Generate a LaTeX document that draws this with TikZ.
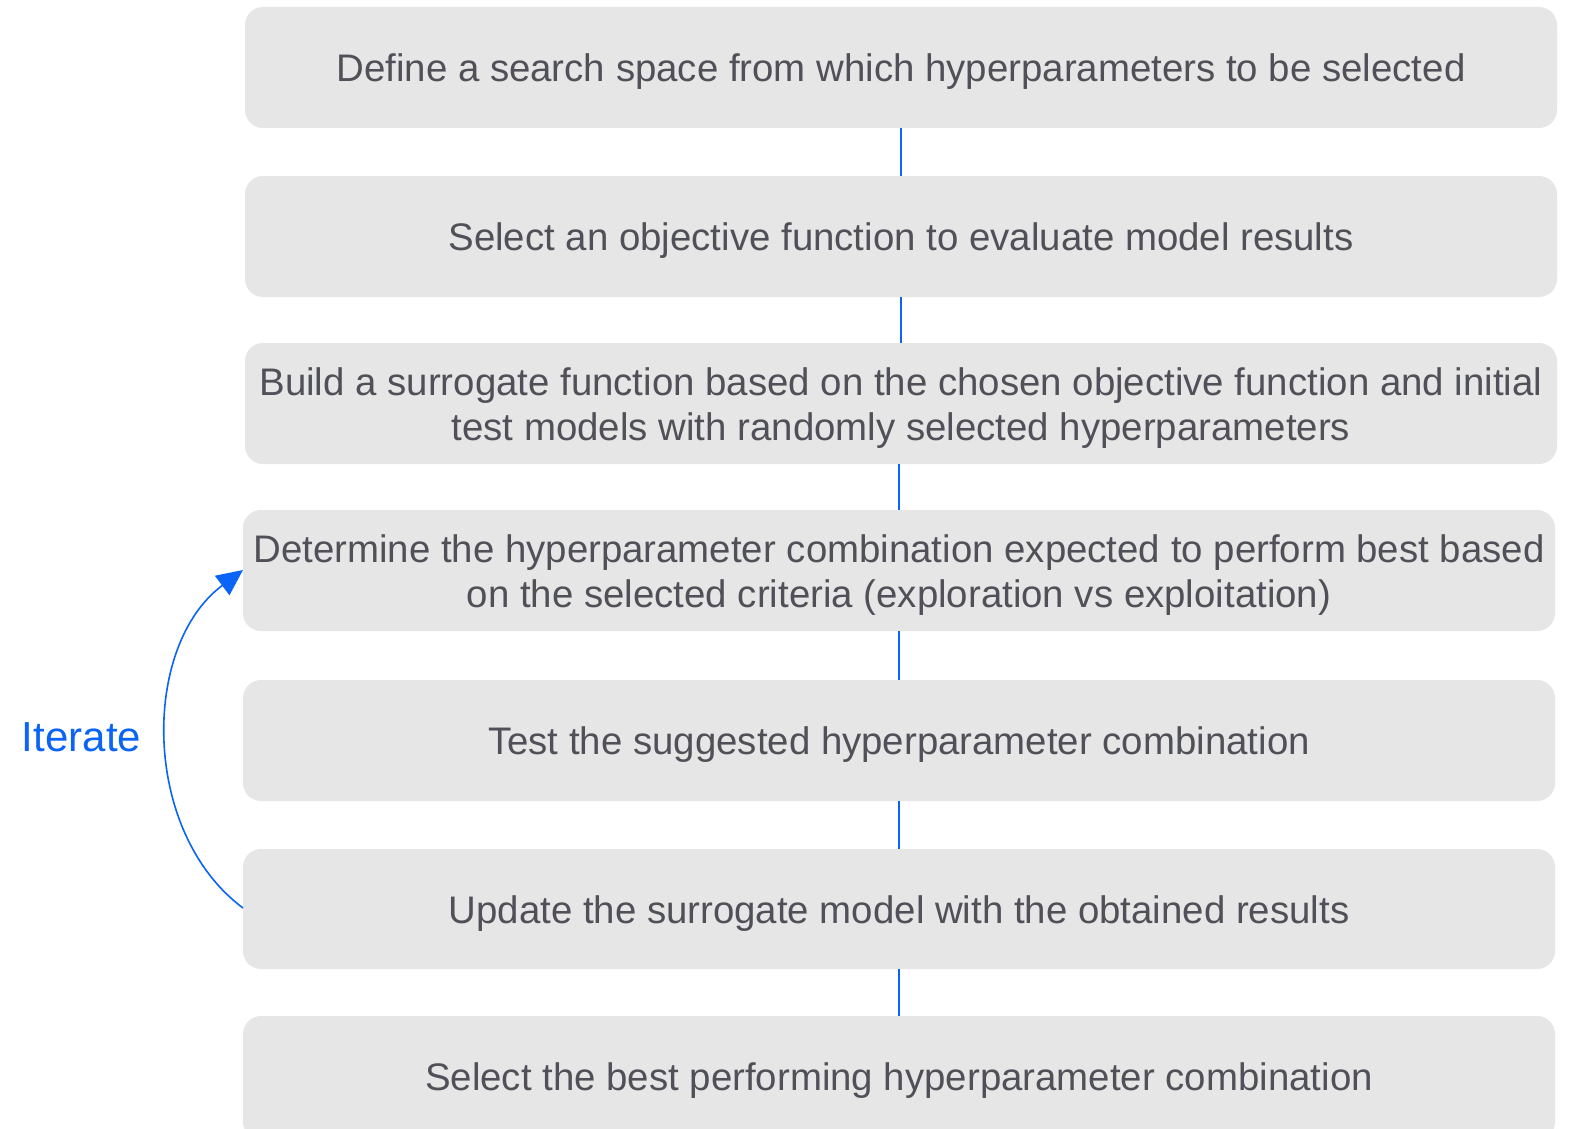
\documentclass[tikz,border=0pt]{standalone}
\usepackage{fontspec}
\setmainfont{Liberation Sans}
\usetikzlibrary{arrows.meta}
\definecolor{boxfill}{HTML}{E6E6E6}
\definecolor{boxtext}{HTML}{505058}
\definecolor{flowblue}{HTML}{0A64F5}
\begin{document}
\begin{tikzpicture}[x=1pt,y=-1pt,
  stepbox/.style={fill=boxfill, draw=none, rounded corners=18pt},
  steptext/.style={text=boxtext, font=\fontsize{38.4}{45.5}\selectfont, align=center},
  link/.style={draw=flowblue, line width=2pt},
  loop/.style={draw=flowblue, line width=1.6pt, -{Triangle[length=26pt,width=24pt]}}]
\useasboundingbox (0,0) rectangle (1577,1129);
% process steps, top to bottom
\path[stepbox] (245,7) rectangle (1557,128);
\node[steptext] (s1) at (901,72) {Define a search space from which hyperparameters to be selected};
\path[stepbox] (245,176) rectangle (1557,297);
\node[steptext] (s2) at (901,241) {Select an objective function to evaluate model results};
\path[stepbox] (245,343) rectangle (1557,464);
\node[steptext] (s3) at (901,408) {Build a surrogate function based on the chosen objective function and initial\\test models with randomly selected hyperparameters};
\path[stepbox] (243,510) rectangle (1555,631);
\node[steptext] (s4) at (899,575) {Determine the hyperparameter combination expected to perform best based\\on the selected criteria (exploration vs exploitation)};
\path[stepbox] (243,680) rectangle (1555,801);
\node[steptext] (s5) at (899,745) {Test the suggested hyperparameter combination};
\path[stepbox] (243,849) rectangle (1555,969);
\node[steptext] (s6) at (899,913.5) {Update the surrogate model with the obtained results};
\path[stepbox] (243,1016) rectangle (1555,1140);
\node[steptext] (s7) at (899,1080.5) {Select the best performing hyperparameter combination};
% anchor points on the box edges
\coordinate (b1) at (901,128); \coordinate (t2) at (901,176);
\coordinate (b2) at (901,297); \coordinate (t3) at (901,343);
\coordinate (b3) at (899,464); \coordinate (t4) at (899,510);
\coordinate (b4) at (899,631); \coordinate (t5) at (899,680);
\coordinate (b5) at (899,801); \coordinate (t6) at (899,849);
\coordinate (b6) at (899,969); \coordinate (t7) at (899,1016);
\coordinate (l6) at (243,908);
\coordinate (l4) at (243,570);
% connectors
\draw[link] (b1) -- (t2);
\draw[link] (b2) -- (t3);
\draw[link] (b3) -- (t4);
\draw[link] (b4) -- (t5);
\draw[link] (b5) -- (t6);
\draw[link] (b6) -- (t7);
% feedback loop
\draw[loop] (l6) .. controls (141,832) and (141,646) .. (l4);
\node[text=flowblue, font=\fontsize{42}{50}\selectfont] (it) at (81.5,737) {Iterate};
\end{tikzpicture}
\end{document}
